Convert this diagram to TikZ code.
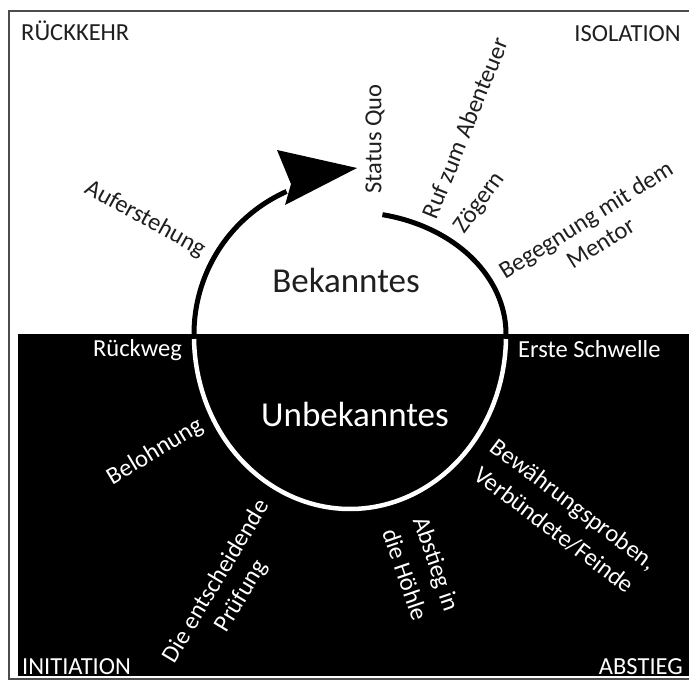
\documentclass[tikz,border=0pt]{standalone}
\usepackage{fontspec}
\setmainfont{Carlito}
\begin{document}
\begin{tikzpicture}[x=1pt,y=-1pt,
  lab/.style={font=\fontsize{24.5}{30}\selectfont, inner sep=0pt},
  darklab/.style={lab, text=black!88},
  lightlab/.style={lab, text=white},
  spacing/.style={font=\fontsize{24.5}{#1}\selectfont},
  big/.style={font=\fontsize{35}{42}\selectfont, inner sep=0pt},
  darkarc/.style={line width=5pt, black},
  lightarc/.style={line width=4.5pt, white}
]
\useasboundingbox (0,0) rectangle (689,681);
\fill[white] (0,0) rectangle (689,681);
% outer frame and the dark lower world
\draw[black!70, line width=1.2pt] (9,11) rectangle (692,679);
\fill[black] (18,334) rectangle (692,676);

% corner labels
\node[darklab, anchor=base west] (rueckkehr) at (21,40) {RÜCKKEHR};
\node[darklab, anchor=base east] (isolation) at (681,41) {ISOLATION};
\node[lightlab, anchor=base west] (initiation) at (22,674) {INITIATION};
\node[lightlab, anchor=base east] (abstieg) at (683,674) {ABSTIEG};

% the journey cycle: upper arcs in black, lower arc in white
\draw[darkarc] plot[domain=180:114, samples=60] ({350+156*cos(\x)},{334-156*sin(\x)});
\fill[black] (357,168) -- (277,150) -- (291,184) -- (285,205) -- cycle;
\draw[darkarc] plot[domain=78:0, samples=60] ({350+156*cos(\x)},{334-122*sin(\x)});
\draw[lightarc] plot[domain=181:359, samples=90] ({350+156*cos(\x)},{336-173*sin(\x)});

% the two worlds
\node[big, text=black!88, anchor=base] (known) at (346,292) {Bekanntes};
\node[big, text=white, anchor=base] (unknown) at (355,426) {Unbekanntes};

% stages
\node[darklab, rotate=90] (statusquo) at (375,139) {Status Quo};
\node[darklab, rotate=68] (ruf) at (465,128) {Ruf zum Abenteuer};
\node[darklab, rotate=54] (zoegern) at (480,203) {Zögern};
\node[darklab, spacing=28, rotate=32, align=center] (mentor) at (593,231) {Begegnung mit dem\\Mentor};
\node[darklab, rotate=-29] (auferstehung) at (145,219) {Auferstehung};
\node[lightlab, anchor=base east] (rueckweg) at (182,356) {Rückweg};
\node[lightlab, anchor=base west] (schwelle) at (518,357) {Erste Schwelle};
\node[lightlab, rotate=31] (belohnung) at (155,452) {Belohnung};
\node[lightlab, spacing=29, rotate=59, align=center] (pruefung) at (229,589) {Die entscheidende\\Prüfung};
\node[lightlab, spacing=33, rotate=-71, align=center] (hoehle) at (421,569) {Abstieg in\\die Höhle};
\node[lightlab, spacing=32, rotate=-37, align=center] (proben) at (564,517) {Bewährungsproben,\\Verbündete/Feinde};
\end{tikzpicture}
\end{document}
